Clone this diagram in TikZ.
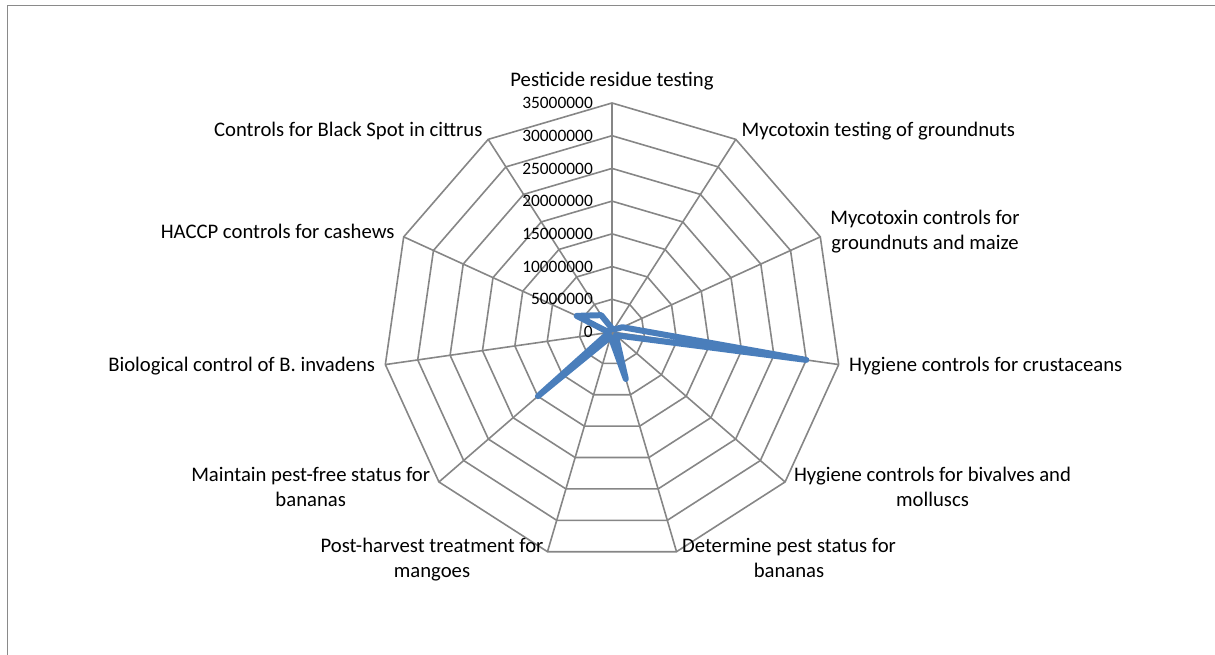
\documentclass[tikz,border=0pt]{standalone}
\usepackage{fontspec}
\setmainfont{Carlito}
\definecolor{gridgray}{RGB}{134,134,134}
\definecolor{framegray}{RGB}{138,138,138}
\definecolor{seriesblue}{RGB}{74,126,187}
\tikzset{
  gridline/.style={draw=gridgray, line width=1.6pt},
  series/.style={draw=seriesblue, line width=6pt, line join=round, line cap=round},
  catlabel/.style={inner sep=0pt, align=center, font=\fontsize{20.7}{25}\selectfont},
  ticklabel/.style={inner sep=0pt, anchor=east, font=\fontsize{17.4}{21}\selectfont}
}
\newcommand\radarring[1]{%
  \draw[gridline] (90:#1) -- (57.273:#1) -- (24.545:#1) -- (-8.182:#1) -- (-40.909:#1)
    -- (-73.636:#1) -- (-106.364:#1) -- (-139.091:#1) -- (-171.818:#1) -- (155.455:#1)
    -- (122.727:#1) -- cycle
}
\newcommand\radarspoke[1]{%
  \draw[gridline] (0,0) -- (#1:229)
}
\begin{document}
\begin{tikzpicture}[x=1pt,y=1pt]
        \useasboundingbox (0,0) rectangle (1215,655);
        % Chart frame
        \draw[framegray, line width=1.8pt] (7.5,0) -- (7.5,649.5) -- (1215,649.5);

        \begin{scope}[shift={(612,323)}]
          % The rings
          \radarring{32.714};
          \radarring{65.429};
          \radarring{98.143};
          \radarring{130.857};
          \radarring{163.571};
          \radarring{196.286};
          \radarring{229};
          % The spokes
          \radarspoke{90};
          \radarspoke{57.273};
          \radarspoke{24.545};
          \radarspoke{-8.182};
          \radarspoke{-40.909};
          \radarspoke{-73.636};
          \radarspoke{-106.364};
          \radarspoke{-139.091};
          \radarspoke{-171.818};
          \radarspoke{155.455};
          \radarspoke{122.727};

          % The series
          \coordinate (vPest)     at (90:3.5);
          \coordinate (vMycoTest) at (57.273:3);
          \coordinate (vMycoCtrl) at (24.545:11.5);
          \coordinate (vCrust)    at (-8.182:196.3);
          \coordinate (vBival)    at (-40.909:5);
          \coordinate (vDeterm)   at (-73.636:49);
          \coordinate (vPostHarv) at (-106.364:5);
          \coordinate (vPestFree) at (-139.091:98);
          \coordinate (vBio)      at (-171.818:3);
          \coordinate (vHaccp)    at (155.455:38.8);
          \coordinate (vSpot)     at (122.727:20);
          \draw[series] (vPest) -- (vMycoTest) -- (vMycoCtrl) -- (vCrust) -- (vBival) -- (vDeterm)
            -- (vPostHarv) -- (vPestFree) -- (vBio) -- (vHaccp) -- (vSpot) -- cycle;
        \end{scope}

        % Axis values
        \node[ticklabel] (t0) at (593,323) {0};
        \node[ticklabel] (t5) at (593,355.714) {5000000};
        \node[ticklabel] (t10) at (593,388.429) {10000000};
        \node[ticklabel] (t15) at (593,421.143) {15000000};
        \node[ticklabel] (t20) at (593,453.857) {20000000};
        \node[ticklabel] (t25) at (593,486.571) {25000000};
        \node[ticklabel] (t30) at (593,519.286) {30000000};
        \node[ticklabel] (t35) at (593,552) {35000000};

        % Categories
        \node[catlabel, anchor=base] (pest) at (612,568.5) {Pesticide residue testing};
        \node[catlabel, anchor=base west] (mycotest) at (741.5,518.3) {Mycotoxin testing of groundnuts};
        \node[catlabel, anchor=base] (mycoctrl) at (925,405) {Mycotoxin controls for\\groundnuts and maize};
        \node[catlabel, anchor=base west] (crust) at (849,283.3) {Hygiene controls for crustaceans};
        \node[catlabel, anchor=base] (bival) at (932.5,148.3) {Hygiene controls for bivalves and\\molluscs};
        \node[catlabel, anchor=base] (determ) at (789,77) {Determine pest status for\\bananas};
        \node[catlabel, anchor=base] (postharv) at (432,77) {Post-harvest treatment for\\mangoes};
        \node[catlabel, anchor=base] (pestfree) at (310.7,148.3) {Maintain pest-free status for\\bananas};
        \node[catlabel, anchor=base east] (bio) at (375.3,283.3) {Biological control of B. invadens};
        \node[catlabel, anchor=base east] (haccp) at (394.7,416.7) {HACCP controls for cashews};
        \node[catlabel, anchor=base east] (spot) at (482.7,518.3) {Controls for Black Spot in cittrus};
    \end{tikzpicture}
\end{document}
